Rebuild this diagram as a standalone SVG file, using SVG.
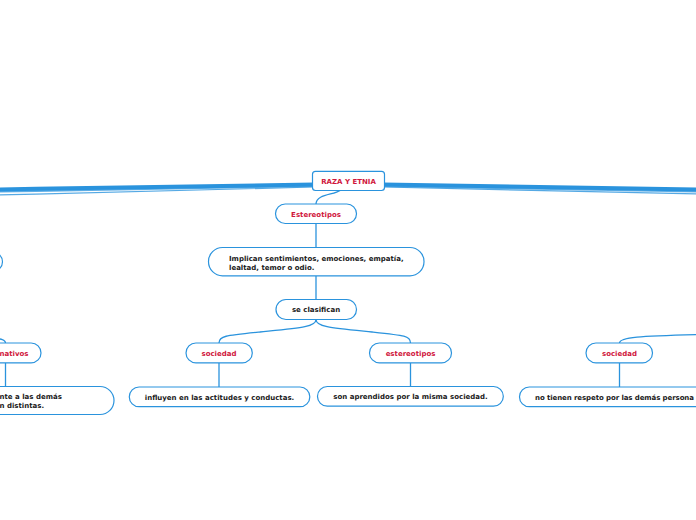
<svg xmlns="http://www.w3.org/2000/svg" width="696" height="520" viewBox="0 0 696 520">
<style>
.n{fill:#fff;stroke:#2a93dd;stroke-width:1.2}
.t{font-family:"DejaVu Sans",Verdana,sans-serif;font-weight:bold;font-size:7px;fill:#1a1a1a}
.r{fill:#d0163c}
.c{text-anchor:middle}
.l{fill:none;stroke:#2a93dd;stroke-width:1.3}
.b{fill:none;stroke:#2a93dd;stroke-linecap:butt}
</style>
<rect width="696" height="520" fill="#fff"/>
<g id="connectors">
<path class="b" d="M314,184.5 C200,186 100,187.5 -2,189.5" stroke-width="4"/>
<path class="b" d="M314,186 C200,188 100,190 -2,191.5" stroke-width="2" stroke-opacity="0.75"/>
<path class="b" d="M314,187 C200,190 100,193 -2,195" stroke-width="1.2" stroke-opacity="0.8"/>
<path class="b" d="M383,184.5 C500,186 600,187.5 698,189.5" stroke-width="4"/>
<path class="b" d="M383,186 C500,188 600,190 698,191.5" stroke-width="2" stroke-opacity="0.75"/>
<path class="b" d="M383,187 C500,190 600,192.5 698,194" stroke-width="1.2" stroke-opacity="0.8"/>
<path class="l" d="M340,190.5 C334,195 316,194 316,204"/>
<path class="l" d="M316,223.5 L316,247.5"/>
<path class="l" d="M316,276 L316,299.5"/>
<path class="l" d="M316,319.5 C316,327 300,328 260,332 C225,335.5 219,336 219,343"/>
<path class="l" d="M316,319.5 C316,327 332,328 372,332 C405,335.5 410.5,336 410.5,343"/>
<path class="l" d="M219,363 L219,387"/>
<path class="l" d="M410.5,363 L410.5,386.5"/>
<path class="l" d="M619.5,343 C619.5,337 640,336 698,334.5"/>
<path class="l" d="M619.5,363 L619.5,387"/>
<path class="l" d="M5.5,343 C5.5,340 2,338.5 -10,338"/>
<path class="l" d="M5.5,363 L5.5,386.5"/>
</g>
<g id="root"><rect class="n" x="312.5" y="171.3" width="72" height="19.2" rx="3"/><text class="t r c" x="348.5" y="183.5">RAZA Y ETNIA</text></g>
<g id="estereotipos1"><rect class="n" x="275.5" y="204" width="81" height="19.5" rx="9.7"/><text class="t r c" x="316" y="216.5">Estereotipos</text></g>
<g id="implican"><rect class="n" x="208.5" y="247.5" width="215.5" height="28.3" rx="14"/><text class="t" x="229" y="261">Implican sentimientos, emociones, empatía,</text><text class="t" x="229" y="270">lealtad, temor o odio.</text></g>
<g id="seclasifican"><rect class="n" x="276" y="299.5" width="80.5" height="20" rx="10"/><text class="t c" x="316" y="312">se clasifican</text></g>
<g id="sociedad1"><rect class="n" x="186" y="343" width="66.3" height="19.8" rx="9.9"/><text class="t r c" x="219" y="355.5">sociedad</text></g>
<g id="estereotipos2"><rect class="n" x="369.5" y="343" width="82" height="19.8" rx="9.9"/><text class="t r c" x="410.5" y="355.5">estereotipos</text></g>
<g id="sociedad2"><rect class="n" x="586" y="343" width="66.5" height="19.8" rx="9.9"/><text class="t r c" x="619.5" y="355.5">sociedad</text></g>
<g id="influyen"><rect class="n" x="129.3" y="387" width="180.5" height="19.7" rx="9.8"/><text class="t c" x="219.5" y="399.5">influyen en las actitudes y conductas.</text></g>
<g id="aprendidos"><rect class="n" x="317.5" y="386.5" width="185.8" height="19.7" rx="9.8"/><text class="t c" x="410.5" y="399">son aprendidos por la misma sociedad.</text></g>
<g id="notienen"><rect class="n" x="519.5" y="387" width="240" height="19.7" rx="9.8"/><text class="t" x="535" y="399.5" textLength="159" lengthAdjust="spacing">no tienen respeto por las demás persona</text></g>
<g id="leftnode"><rect class="n" x="-100" y="252.5" width="102.5" height="18.5" rx="9.2"/></g>
<g id="nativos"><rect class="n" x="-30" y="343" width="71" height="19.8" rx="9.9"/><text class="t r" x="-0.5" y="355.5">nativos</text></g>
<g id="leftleaf"><rect class="n" x="-120" y="386.5" width="234" height="28" rx="14"/><text class="t" x="-0.5" y="398.5">nte a las demás</text><text class="t" x="-0.5" y="407.5">n distintas.</text></g>
</svg>
